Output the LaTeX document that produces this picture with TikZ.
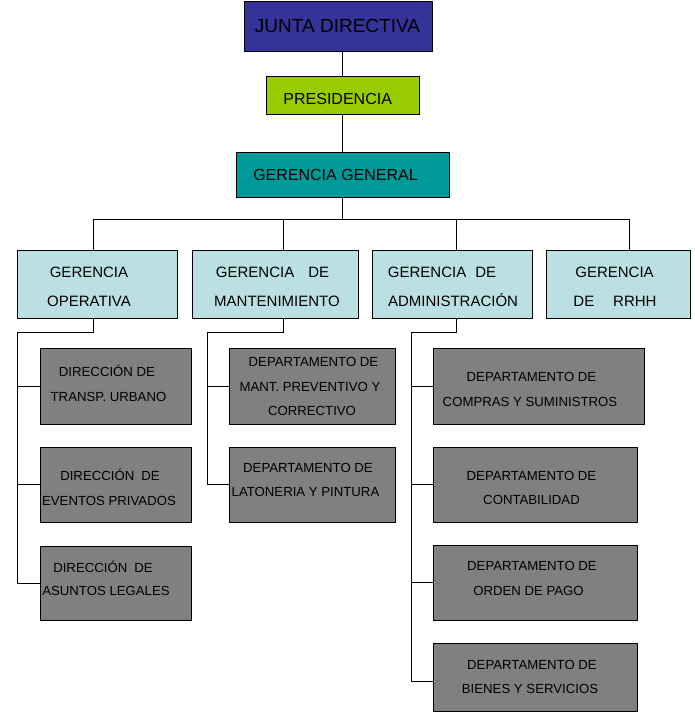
\documentclass[tikz,border=0pt]{standalone}
\usepackage{fontspec}
\setmainfont{Liberation Sans}
\definecolor{jdblue}{HTML}{333399}
\definecolor{presgreen}{HTML}{99CC00}
\definecolor{ggteal}{HTML}{009999}
\definecolor{gercyan}{HTML}{BBE0E3}
\definecolor{deptgray}{HTML}{808080}
\begin{document}
\begin{tikzpicture}[x=1pt,y=-1pt,
  box/.style={draw=black,line width=1pt,inner sep=0pt,outer sep=0pt},
  topbox/.style={box},
  gerbox/.style={box,fill=gercyan,minimum height=68pt},
  deptbox/.style={box,fill=deptgray},
  conn/.style={draw=black,line width=1pt},
  txt/.style={inner sep=0pt,anchor=base,text=black},
  fbig/.style={font=\fontsize{19}{22}\selectfont},
  fmid/.style={font=\fontsize{16}{20}\selectfont},
  fger/.style={font=\fontsize{15}{18}\selectfont},
  fdep/.style={font=\fontsize{13.2}{16}\selectfont}]
\useasboundingbox (0,0) rectangle (694,712);
\fill[white] (0,0) rectangle (694,712);

% top boxes
\node[topbox,fill=jdblue,minimum width=188pt,minimum height=50pt] (junta) at (338,26) {};
\node[topbox,fill=presgreen,minimum width=153pt,minimum height=38pt] (pres) at (342.5,95) {};
\node[topbox,fill=ggteal,minimum width=213pt,minimum height=45pt] (gg) at (342.5,174.5) {};

% gerencias
\node[gerbox,minimum width=160pt] (op) at (97,284) {};
\node[gerbox,minimum width=166pt] (mant) at (275,284) {};
\node[gerbox,minimum width=160pt] (adm) at (452,284) {};
\node[gerbox,minimum width=144pt] (rrhh) at (618,284) {};

% direcciones
\node[deptbox,minimum width=151pt,minimum height=76pt] (d1) at (116.3,386) {};
\node[deptbox,minimum width=151pt,minimum height=75pt] (d2) at (116.3,484.5) {};
\node[deptbox,minimum width=151pt,minimum height=74pt] (d3) at (116.3,583) {};
% mantenimiento
\node[deptbox,minimum width=166pt,minimum height=76pt] (m1) at (312,386) {};
\node[deptbox,minimum width=166pt,minimum height=75pt] (m2) at (312,484.5) {};
% administracion
\node[deptbox,minimum width=211pt,minimum height=76pt] (a1) at (538.5,386) {};
\node[deptbox,minimum width=204pt,minimum height=75pt] (a2) at (535,484.5) {};
\node[deptbox,minimum width=204pt,minimum height=75pt] (a3) at (535,582.5) {};
\node[deptbox,minimum width=204pt,minimum height=68pt] (a4) at (535,677) {};

% connectors top
\draw[conn] (junta.south -| pres.north) -- (pres.north);
\draw[conn] (pres.south) -- (gg.north);
\coordinate (bus) at (342.5,219);
\draw[conn] (gg.south) -- (bus);
\draw[conn] ([xshift=-4pt]op.north) |- (bus);
\draw[conn] ([xshift=8pt]mant.north) |- (bus);
\draw[conn] ([xshift=4pt]adm.north) |- (bus);
\draw[conn] ([xshift=11pt]rrhh.north) |- (bus);

% operativa branch
\coordinate (opk) at (17,332);
\draw[conn] ([xshift=-4pt]op.south) |- (opk) |- (d3.west);
\draw[conn] (opk |- d1.west) -- (d1.west);
\draw[conn] (opk |- d2.west) -- (d2.west);
% mantenimiento branch
\coordinate (mk) at (207,332);
\draw[conn] ([xshift=8pt]mant.south) |- (mk) |- (m2.west);
\draw[conn] (mk |- m1.west) -- (m1.west);
% administracion branch
\coordinate (ak) at (411,332);
\draw[conn] ([xshift=4pt]adm.south) |- (ak) |- ([yshift=-4pt]a4.west);
\draw[conn] (ak |- a1.west) -- (a1.west);
\draw[conn] (ak |- a2.west) -- (a2.west);
\draw[conn] (ak |- a3.west) -- (a3.west);

% texts
\node[txt,fbig] (tjunta) at (337.5,32) {JUNTA DIRECTIVA};
\node[txt,fmid] (tpres) at (337.7,104) {PRESIDENCIA};
\node[txt,fmid] (tgg) at (335.5,180) {GERENCIA GENERAL};

\node[txt,fger] (top1) at (89,277.5) {GERENCIA};
\node[txt,fger] (top2) at (89,306.5) {OPERATIVA};
\node[txt,fger] (tma1) at (272.5,277.5) {GERENCIA\hspace{14pt}DE};
\node[txt,fger] (tma2) at (277,306.5) {MANTENIMIENTO};
\node[txt,fger] (tad1) at (442,277.5) {GERENCIA\hspace{9pt}DE};
\node[txt,fger] (tad2) at (453,306.5) {ADMINISTRACIÓN};
\node[txt,fger] (trh1) at (614.5,277.5) {GERENCIA};
\node[txt,fger] (trh2) at (615,306.5) {DE\hspace{19pt}RRHH};

\node[txt,fdep] (td11) at (107,376) {DIRECCIÓN DE};
\node[txt,fdep] (td12) at (108.5,401) {TRANSP. URBANO};
\node[txt,fdep] (td21) at (110,480.7) {DIRECCIÓN\hspace{7pt}DE};
\node[txt,fdep] (td22) at (109,505) {EVENTOS PRIVADOS};
\node[txt,fdep] (td31) at (103,572.3) {DIRECCIÓN\hspace{7pt}DE};
\node[txt,fdep] (td32) at (106,595) {ASUNTOS LEGALES};

\node[txt,fdep] (tm11) at (313.5,366.7) {DEPARTAMENTO DE};
\node[txt,fdep] (tm12) at (310,391) {MANT. PREVENTIVO Y};
\node[txt,fdep] (tm13) at (312,415) {CORRECTIVO};
\node[txt,fdep] (tm21) at (308,472.7) {DEPARTAMENTO DE};
\node[txt,fdep] (tm22) at (305.5,496) {LATONERIA Y PINTURA};

\node[txt,fdep] (ta11) at (531.5,381.7) {DEPARTAMENTO DE};
\node[txt,fdep] (ta12) at (530,406) {COMPRAS Y SUMINISTROS};
\node[txt,fdep] (ta21) at (531.5,480) {DEPARTAMENTO DE};
\node[txt,fdep] (ta22) at (531.5,504) {CONTABILIDAD};
\node[txt,fdep] (ta31) at (532,570.7) {DEPARTAMENTO DE};
\node[txt,fdep] (ta32) at (528.5,595) {ORDEN DE PAGO};
\node[txt,fdep] (ta41) at (532,669) {DEPARTAMENTO DE};
\node[txt,fdep] (ta42) at (530,693) {BIENES Y SERVICIOS};
\end{tikzpicture}
\end{document}
